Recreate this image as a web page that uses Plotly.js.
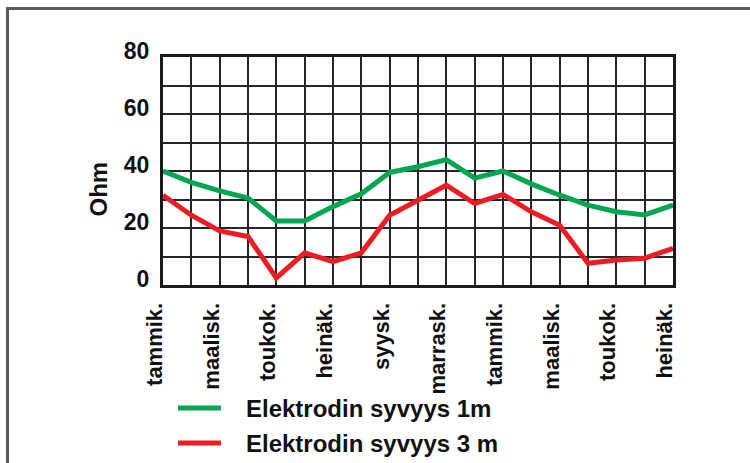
<!DOCTYPE html>
<html>
<head>
<meta charset="utf-8">
<script src="https://cdn.plot.ly/plotly-3.0.1.min.js"></script>
<style>
  html, body { margin: 0; padding: 0; background: #ffffff; }
  #chart { position: absolute; left: 0; top: 0; width: 750px; height: 463px; }
  #frame { position: absolute; left: 6px; top: 7px; width: 760px; height: 470px;
           border-left: 3px solid #5a5a5a; border-top: 3px solid #5a5a5a; pointer-events: none; }
</style>
</head>
<body>
<div id="chart"></div>
<div id="frame"></div>
<script>
// Months shown on the x axis (19 monthly readings, January to July of the following year)
var months = ["tammik.", "helmik.", "maalisk.", "huhtik.", "toukok.", "kesäk.", "heinäk.", "elok.",
              "syysk.", "lokak.", "marrask.", "jouluk.", "tammik.", "helmik.", "maalisk.", "huhtik.",
              "toukok.", "kesäk.", "heinäk."];
// Tick labels: every second month
var tickIndex = [0, 2, 4, 6, 8, 10, 12, 14, 16, 18];
var tickLabels = ["tammik.", "maalisk.", "toukok.", "heinäk.", "syysk.", "marrask.", "tammik.", "maalisk.", "toukok.", "heinäk."];
// Earth resistance (Ohm)
var depth1m = [40, 36, 33, 30.5, 22.5, 22.5, 27.5, 32, 39.5, 41.5, 44, 37.5, 40, 35.5, 31.5, 28, 25.7, 24.6, 28];
var depth3m = [31.5, 24.5, 19, 17, 2.5, 11.3, 8.2, 11.3, 24.5, 29.8, 35, 28.6, 31.8, 25.7, 21, 7.6, 8.8, 9.4, 12.9];
var seriesNames = ["Elektrodin syvyys 1m", "Elektrodin syvyys 3 m"];
var seriesColors = ["#00a651", "#ed1c24"];
var yTicks = [0, 20, 40, 60, 80];

var xIdx = months.map(function (m, i) { return i; });
var fontFam = "Liberation Sans, Arial, Helvetica, sans-serif";

var traces = [depth1m, depth3m].map(function (vals, k) {
  return { x: xIdx, y: vals, text: months, type: "scatter", mode: "lines", name: seriesNames[k],
           line: { color: seriesColors[k], width: 5 }, hoverinfo: "text+y" };
});

// Legend drawn below the plot (swatch line + label), placed in paper coordinates
var legendRowsY = [-0.5395, -0.693];
var shapes = [], annotations = [];
seriesNames.forEach(function (nm, k) {
  shapes.push({ type: "line", xref: "paper", yref: "paper", x0: 0.0294, x1: 0.1137,
                y0: legendRowsY[k], y1: legendRowsY[k], line: { color: seriesColors[k], width: 5 } });
  annotations.push({ xref: "paper", yref: "paper", x: 0.1588, y: legendRowsY[k], xanchor: "left", yanchor: "middle",
                     text: nm, showarrow: false,
                     font: { family: fontFam, size: 24, color: "#111111", weight: "bold" } });
});
annotations.push({ xref: "paper", yref: "paper", x: -0.127, y: 0.42, xanchor: "center", yanchor: "middle",
                   text: "Ohm", textangle: -90, showarrow: false,
                   font: { family: fontFam, size: 24, color: "#111111", weight: "bold" } });

var layout = {
  width: 750, height: 463,
  margin: { l: 163, r: 77, t: 57, b: 178 },
  paper_bgcolor: "rgba(0,0,0,0)", plot_bgcolor: "#ffffff",
  font: { family: fontFam, size: 22, color: "#111111", weight: "bold" },
  showlegend: false,
  shapes: shapes,
  annotations: annotations,
  xaxis: {
    range: [0, 18], tickmode: "array", tickvals: tickIndex, ticktext: tickLabels,
    tickangle: -90, ticks: "", ticklabelstandoff: 6, ticklabelshift: -8,
    showgrid: true, gridcolor: "#262626", gridwidth: 2,
    minor: { dtick: 1, showgrid: true, gridcolor: "#262626", gridwidth: 2 },
    showline: true, mirror: true, linecolor: "#1a1a1a", linewidth: 3, zeroline: false,
    tickfont: { family: fontFam, size: 22, color: "#111111", weight: "bold" }
  },
  yaxis: {
    range: [0, 80], tickmode: "array", tickvals: yTicks, ticks: "",
    ticklabelstandoff: 6, ticklabelshift: -6,
    showgrid: true, gridcolor: "#262626", gridwidth: 2,
    minor: { dtick: 10, showgrid: true, gridcolor: "#262626", gridwidth: 2 },
    showline: true, mirror: true, linecolor: "#1a1a1a", linewidth: 3, zeroline: false,
    tickfont: { family: fontFam, size: 23, color: "#111111", weight: "bold" }
  }
};

Plotly.newPlot("chart", traces, layout, { displayModeBar: false, staticPlot: true });
</script>
</body>
</html>
